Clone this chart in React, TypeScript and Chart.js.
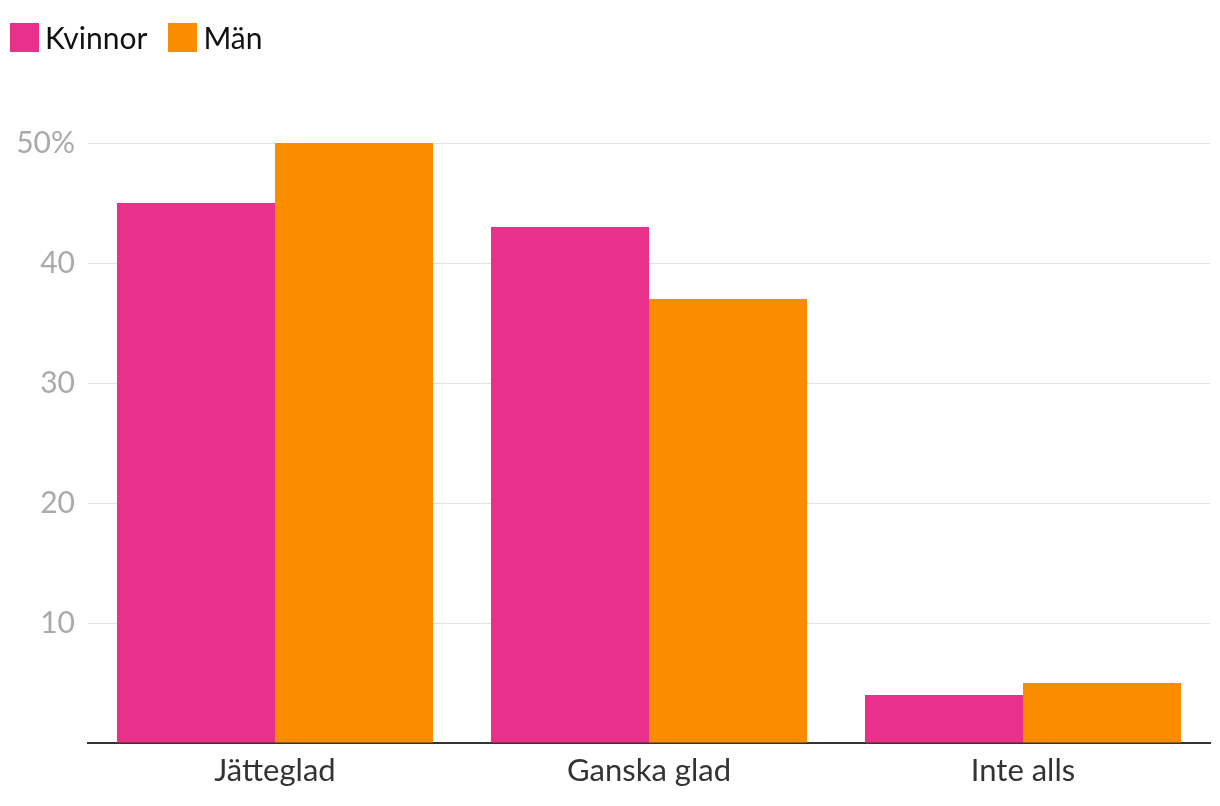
import React, { useEffect, useRef } from "react";
import { Chart, registerables } from "chart.js";

Chart.register(...registerables);

const categories = ["Jätteglad", "Ganska glad", "Inte alls"];
const kvinnor = [45, 43, 4];
const man = [50, 37, 5];
const seriesNames = ["Kvinnor", "Män"];
const colors = ["#E9308A", "#FA8C00"];
const yTicks = [0, 10, 20, 30, 40, 50];

export default function App() {
  const ref = useRef<HTMLCanvasElement | null>(null);

  useEffect(() => {
    document.body.style.margin = "0";
    const canvas = ref.current;
    if (!canvas) return;
    const chart = new Chart(canvas, {
      type: "bar",
      data: {
        labels: categories,
        datasets: [
          { label: seriesNames[0], data: kvinnor, backgroundColor: colors[0] },
          { label: seriesNames[1], data: man, backgroundColor: colors[1] },
        ],
      },
      options: {
        animation: false,
        responsive: false,
        layout: { padding: { top: 143, right: 10, left: 0, bottom: 0 } },
        datasets: {
          bar: { categoryPercentage: 0.845, barPercentage: 1 },
        },
        plugins: {
          legend: { display: false },
          tooltip: { enabled: false },
        },
        scales: {
          x: {
            grid: { display: false, drawTicks: false },
            border: { display: true, color: "#333333", width: 2 },
            ticks: {
              color: "#333333",
              font: { family: "Lato", size: 31 },
              padding: 9,
            },
            afterFit: (s: any) => {
              s.height = 63;
            },
          },
          y: {
            min: 0,
            max: 50,
            afterBuildTicks: (s: any) => {
              s.ticks = yTicks.map((v) => ({ value: v }));
            },
            grid: { color: "#e3e3e3", lineWidth: 1, drawTicks: false },
            border: { display: false },
            ticks: {
              color: "#aaaaaa",
              font: { family: "Lato", size: 30 },
              padding: 13,
              callback: (v: any) => (v === 0 ? "" : v === 50 ? v + "%" : String(v)),
            },
            afterFit: (s: any) => {
              s.width = 88;
            },
          },
        },
      },
    });
    return () => chart.destroy();
  }, []);

  return (
    <div style={{ position: "relative", width: 1220, height: 806, background: "#fff" }}>
      <canvas ref={ref} width={1220} height={806} style={{ position: "absolute", left: 0, top: 0 }} />
      <div
        style={{
          position: "absolute",
          left: 10,
          top: 23,
          display: "flex",
          alignItems: "center",
          fontFamily: "Lato",
          fontSize: 30,
          color: "#111",
          lineHeight: "29px",
        }}
      >
        {seriesNames.map((n, i) => (
          <div key={n} style={{ display: "flex", alignItems: "center", marginRight: 21 }}>
            <span style={{ display: "inline-block", width: 29, height: 29, background: colors[i], marginRight: 6 }} />
            <span>{n}</span>
          </div>
        ))}
      </div>
    </div>
  );
}
